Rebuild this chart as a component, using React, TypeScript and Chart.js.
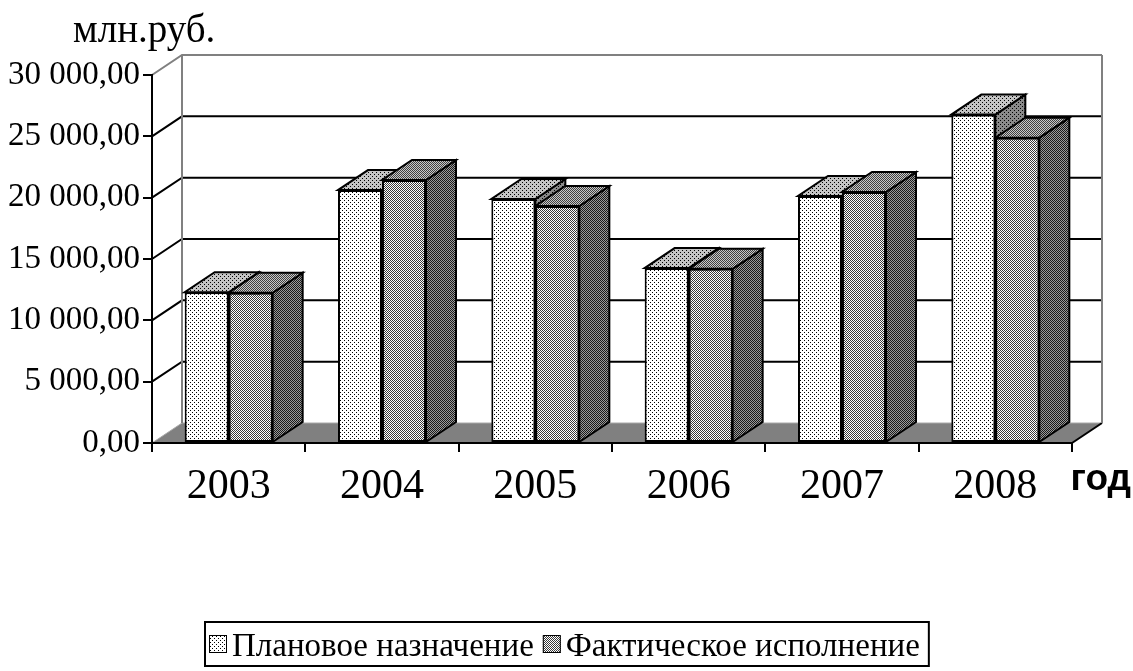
import React, { useEffect, useRef } from "react";
import { Chart, registerables } from "chart.js";

Chart.register(...registerables);

// ---- data ----
const categories = ["2003", "2004", "2005", "2006", "2007", "2008"];
const planValues = [12290, 20620, 19890, 14260, 20140, 26770];
const factValues = [12250, 21440, 19320, 14200, 20460, 24890];
const seriesLabels = ["Плановое назначение", "Фактическое исполнение"];
const yMin = 0;
const yMax = 30000;
const yStep = 5000;
const unitLabel = "млн.руб.";
const xAxisTitle = "год";

// ---- style constants ----
const SERIF = '"Liberation Serif", "Times New Roman", serif';
const SANS = '"Liberation Sans", Arial, sans-serif';
const DX = 30;
const DY = -20;
const W = 1133;
const H = 671;

function fmt(v: number): string {
  const s = Math.round(v)
    .toString()
    .replace(/\B(?=(\d{3})+(?!\d))/g, " ");
  return s + ",00";
}

function makePattern(
  ctx: CanvasRenderingContext2D,
  bg: string,
  fg: string,
  kind: "dots" | "checker"
): CanvasPattern {
  const t = document.createElement("canvas");
  t.width = 4;
  t.height = 4;
  const c = t.getContext("2d")!;
  c.fillStyle = bg;
  c.fillRect(0, 0, 4, 4);
  c.fillStyle = fg;
  if (kind === "dots") {
    c.fillRect(0, 0, 1, 1);
    c.fillRect(2, 2, 1, 1);
  } else {
    for (let y = 0; y < 4; y++)
      for (let x = 0; x < 4; x++) if ((x + y) % 2 === 0) c.fillRect(x, y, 1, 1);
  }
  return ctx.createPattern(t, "repeat")!;
}

export default function App() {
  const ref = useRef<HTMLCanvasElement | null>(null);

  useEffect(() => {
    document.body.style.margin = "0";
    const canvas = ref.current!;
    const ctx0 = canvas.getContext("2d")!;

    const pats = {
      planFront: makePattern(ctx0, "#ffffff", "#000000", "dots"),
      planTop: makePattern(ctx0, "#c4c4c4", "#000000", "dots"),
      planSide: makePattern(ctx0, "#8a8a8a", "#000000", "dots"),
      factFront: makePattern(ctx0, "#ffffff", "#3a3a3a", "checker"),
      factTop: makePattern(ctx0, "#c8c8c8", "#404040", "checker"),
      factSide: makePattern(ctx0, "#9a9a9a", "#1a1a1a", "checker"),
    };
    const fronts = [pats.planFront, pats.factFront];
    const tops = [pats.planTop, pats.factTop];
    const sides = [pats.planSide, pats.factSide];

    const poly = (ctx: CanvasRenderingContext2D, pts: number[][], fill: any) => {
      ctx.beginPath();
      ctx.moveTo(pts[0][0], pts[0][1]);
      for (let i = 1; i < pts.length; i++) ctx.lineTo(pts[i][0], pts[i][1]);
      ctx.closePath();
      ctx.fillStyle = fill;
      ctx.fill();
      ctx.lineWidth = 2;
      ctx.strokeStyle = "#000";
      ctx.lineJoin = "miter";
      ctx.stroke();
    };

    const threeD = {
      id: "threeD",
      beforeDraw(chart: any) {
        const { ctx } = chart;
        const { left, right, top, bottom } = chart.chartArea;
        const ys = chart.scales.y;
        ctx.save();
        // floor
        ctx.beginPath();
        ctx.moveTo(left, bottom);
        ctx.lineTo(right, bottom);
        ctx.lineTo(right + DX, bottom + DY);
        ctx.lineTo(left + DX, bottom + DY);
        ctx.closePath();
        ctx.fillStyle = "#808080";
        ctx.fill();
        // floor edges
        ctx.lineWidth = 1;
        ctx.strokeStyle = "#a8a8a8";
        ctx.beginPath();
        ctx.moveTo(left, bottom);
        ctx.lineTo(left + DX, bottom + DY);
        ctx.lineTo(right + DX, bottom + DY);
        ctx.stroke();
        ctx.lineWidth = 2;
        ctx.strokeStyle = "#000";
        ctx.beginPath();
        ctx.moveTo(right, bottom);
        ctx.lineTo(right + DX, bottom + DY);
        ctx.stroke();
        // gridlines on walls
        ys.ticks.forEach((t: any) => {
          if (t.value === yMin) return;
          const py = ys.getPixelForValue(t.value);
          ctx.lineWidth = 2;
          ctx.strokeStyle = t.value === yMax ? "#808080" : "#000";
          ctx.beginPath();
          ctx.moveTo(left, py);
          ctx.lineTo(left + DX, py + DY);
          ctx.lineTo(right + DX, py + DY);
          ctx.stroke();
        });
        // wall vertical edges
        ctx.strokeStyle = "#808080";
        ctx.lineWidth = 2;
        ctx.beginPath();
        ctx.moveTo(left + DX, top + DY);
        ctx.lineTo(left + DX, bottom + DY);
        ctx.moveTo(right + DX, top + DY);
        ctx.lineTo(right + DX, bottom + DY);
        ctx.stroke();
        ctx.restore();
      },
      beforeDatasetsDraw(chart: any) {
        const { ctx } = chart;
        ctx.save();
        const metas = [chart.getDatasetMeta(0), chart.getDatasetMeta(1)];
        for (let i = 0; i < categories.length; i++) {
          metas.forEach((meta: any, d: number) => {
            const el = meta.data[i];
            const p = el.getProps(["x", "y", "base", "width"], true);
            const x1 = p.x - p.width / 2;
            const x2 = p.x + p.width / 2;
            const yt = p.y;
            const yb = p.base;
            poly(
              ctx,
              [
                [x2, yb],
                [x2, yt],
                [x2 + DX, yt + DY],
                [x2 + DX, yb + DY],
              ],
              sides[d]
            );
            poly(
              ctx,
              [
                [x1, yt],
                [x2, yt],
                [x2 + DX, yt + DY],
                [x1 + DX, yt + DY],
              ],
              tops[d]
            );
          });
        }
        ctx.restore();
      },
      afterDraw(chart: any) {
        const { ctx } = chart;
        ctx.save();
        ctx.fillStyle = "#000";
        // unit label
        ctx.font = `39px ${SERIF}`;
        ctx.textAlign = "left";
        ctx.textBaseline = "alphabetic";
        ctx.fillText(unitLabel, 73, 42);
        // x axis title
        ctx.font = `bold 37px ${SANS}`;
        ctx.textAlign = "right";
        ctx.fillText(xAxisTitle, 1131, 490);
        ctx.textAlign = "left";
        // legend
        ctx.font = `33px ${SERIF}`;
        const sq = 18;
        const gapSq = 5;
        const gapItems = 9;
        const w1 = ctx.measureText(seriesLabels[0]).width;
        const w2 = ctx.measureText(seriesLabels[1]).width;
        const contentW = sq + gapSq + w1 + gapItems + sq + gapSq + w2;
        const boxW = contentW + 13;
        const boxX = Math.round(W / 2 - boxW / 2);
        const boxY = 622;
        const boxH = 44;
        ctx.lineWidth = 2;
        ctx.strokeStyle = "#000";
        ctx.strokeRect(boxX, boxY, boxW, boxH);
        let x = boxX + 4;
        const baseY = 656;
        const sqY = 635;
        [w1, w2].forEach((w, k) => {
          ctx.fillStyle = fronts[k];
          ctx.fillRect(x, sqY, sq, sq);
          ctx.lineWidth = 1;
          ctx.strokeStyle = "#000";
          ctx.strokeRect(x + 0.5, sqY + 0.5, sq - 1, sq - 1);
          x += sq + gapSq;
          ctx.fillStyle = "#000";
          ctx.fillText(seriesLabels[k], x, baseY);
          x += w + gapItems;
        });
        ctx.restore();
      },
    };

    const chart = new Chart(canvas, {
      type: "bar",
      data: {
        labels: categories,
        datasets: [
          {
            label: seriesLabels[0],
            data: planValues,
            backgroundColor: pats.planFront,
            borderColor: "#000",
            borderWidth: 2,
            borderSkipped: false,
            categoryPercentage: 0.574,
            barPercentage: 1,
          },
          {
            label: seriesLabels[1],
            data: factValues,
            backgroundColor: pats.factFront,
            borderColor: "#000",
            borderWidth: 2,
            borderSkipped: false,
            categoryPercentage: 0.574,
            barPercentage: 1,
          },
        ],
      },
      options: {
        responsive: false,
        animation: false,
        devicePixelRatio: 1,
        layout: { padding: { top: 75, right: W - 1072, left: 0, bottom: 0 } },
        plugins: {
          legend: { display: false },
          tooltip: { enabled: false },
          title: { display: false },
        },
        scales: {
          x: {
            type: "category",
            grid: {
              offset: true,
              drawOnChartArea: false,
              drawTicks: true,
              tickLength: 9,
              color: "#000",
              lineWidth: 2,
            },
            border: { display: true, color: "#000", width: 2 },
            ticks: {
              padding: 10,
              color: "#000",
              font: { size: 42, family: SERIF },
              maxRotation: 0,
              autoSkip: false,
            },
            afterFit(s: any) {
              s.height = H - 443;
            },
          },
          y: {
            min: yMin,
            max: yMax,
            grid: {
              drawOnChartArea: false,
              drawTicks: true,
              tickLength: 9,
              color: "#000",
              lineWidth: 2,
            },
            border: { display: true, color: "#000", width: 2 },
            ticks: {
              stepSize: yStep,
              padding: 3,
              color: "#000",
              font: { size: 33, family: SERIF },
              callback: (v: any) => fmt(Number(v)),
            },
            afterFit(s: any) {
              s.width = 152;
            },
          },
        },
      },
      plugins: [threeD],
    } as any);

    return () => chart.destroy();
  }, []);

  return (
    <div style={{ width: W, height: H, background: "#fff" }}>
      <canvas ref={ref} width={W} height={H} style={{ display: "block" }} />
    </div>
  );
}
